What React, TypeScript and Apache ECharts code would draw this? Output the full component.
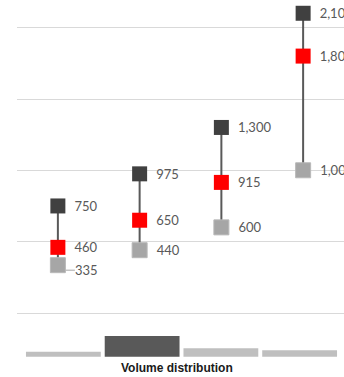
import React, { useEffect, useRef } from "react";
import * as echarts from "echarts";

const categories = ["A", "B", "C", "D"];
const maxValues = [750, 975, 1300, 2100];
const midValues = [460, 650, 915, 1800];
const minValues = [335, 440, 600, 1000];
const volumeValues = [24, 100, 41, 31];
const volumeTitle = "Volume distribution";

const fmt = (v: number) => v.toLocaleString("en-US");

export default function App() {
  const ref = useRef<HTMLDivElement>(null);
  useEffect(() => {
    if (!ref.current) return;
    const chart = echarts.init(ref.current, undefined, { renderer: "svg" });
    const labelStyle = {
      show: true,
      position: "right" as const,
      distance: 9,
      color: "#595959",
      fontFamily: "Lato",
      fontSize: 13,
      formatter: (p: any) => fmt(p.value),
    };
    chart.setOption({
      animation: false,
      title: {
        text: volumeTitle,
        left: 121,
        top: 362,
        padding: 0,
        textStyle: {
          fontFamily: "Liberation Sans",
          fontWeight: "bold",
          fontSize: 12,
          color: "#1a1a1a",
        },
      },
      grid: [
        { left: 17, right: -3, top: 0, bottom: 64 },
        { left: 24, right: 5, top: 336, bottom: 20.3 },
      ],
      xAxis: [
        {
          type: "category",
          data: categories,
          gridIndex: 0,
          boundaryGap: true,
          axisLine: { show: false },
          axisTick: { show: false },
          axisLabel: { show: false },
        },
        {
          type: "category",
          data: categories,
          gridIndex: 1,
          axisLine: { show: false },
          axisTick: { show: false },
          axisLabel: { show: false },
        },
      ],
      yAxis: [
        {
          type: "value",
          gridIndex: 0,
          min: 0,
          max: 2193,
          interval: 500,
          axisLine: { show: false },
          axisTick: { show: false },
          axisLabel: { show: false },
          splitLine: {
            show: true,
            showMaxLine: false,
            lineStyle: { color: "#d9d9d9", width: 1 },
          },
        },
        {
          type: "value",
          gridIndex: 1,
          min: 0,
          max: 100,
          axisLine: { show: false },
          axisTick: { show: false },
          axisLabel: { show: false },
          splitLine: { show: false },
        },
      ],
      series: [
        {
          type: "custom",
          xAxisIndex: 0,
          yAxisIndex: 0,
          data: categories.map((_, i) => [i, minValues[i], maxValues[i]]),
          encode: { x: 0, y: [1, 2] },
          renderItem: (params: any, api: any) => {
            const i = api.value(0);
            const p1 = api.coord([i, api.value(1)]);
            const p2 = api.coord([i, api.value(2)]);
            return {
              type: "line",
              shape: { x1: p1[0], y1: p1[1], x2: p2[0], y2: p2[1] },
              style: { stroke: "#595959", lineWidth: 2 },
            };
          },
          z: 1,
        },
        {
          type: "scatter",
          xAxisIndex: 0,
          yAxisIndex: 0,
          data: minValues.map((v, i) =>
            i === 0
              ? { value: v, labelLine: { show: true, lineStyle: { color: "#a6a6a6", width: 1 } } }
              : { value: v }
          ),
          symbol: "rect",
          symbolSize: 15,
          itemStyle: { color: "#a6a6a6", borderColor: "#b8b8b8", borderWidth: 1, opacity: 1 },
          label: labelStyle,
          labelLayout: (p: any) => (p.dataIndex === 0 ? { dy: 5 } : {}),
          z: 3,
        },
        {
          type: "scatter",
          xAxisIndex: 0,
          yAxisIndex: 0,
          data: midValues,
          symbol: "rect",
          symbolSize: 15,
          itemStyle: { color: "#ff0000", opacity: 1 },
          label: labelStyle,
          z: 3,
        },
        {
          type: "scatter",
          xAxisIndex: 0,
          yAxisIndex: 0,
          data: maxValues,
          symbol: "rect",
          symbolSize: 15,
          itemStyle: { color: "#404040", opacity: 1 },
          label: labelStyle,
          z: 3,
        },
        {
          type: "bar",
          xAxisIndex: 1,
          yAxisIndex: 1,
          barCategoryGap: "5%",
          data: volumeValues.map((v, i) => ({
            value: v,
            itemStyle: { color: i === 1 ? "#595959" : "#bfbfbf" },
          })),
        },
      ],
    });
    return () => chart.dispose();
  }, []);
  return <div ref={ref} style={{ width: 344, height: 377, position: "absolute", left: 0, top: 0 }} />;
}
